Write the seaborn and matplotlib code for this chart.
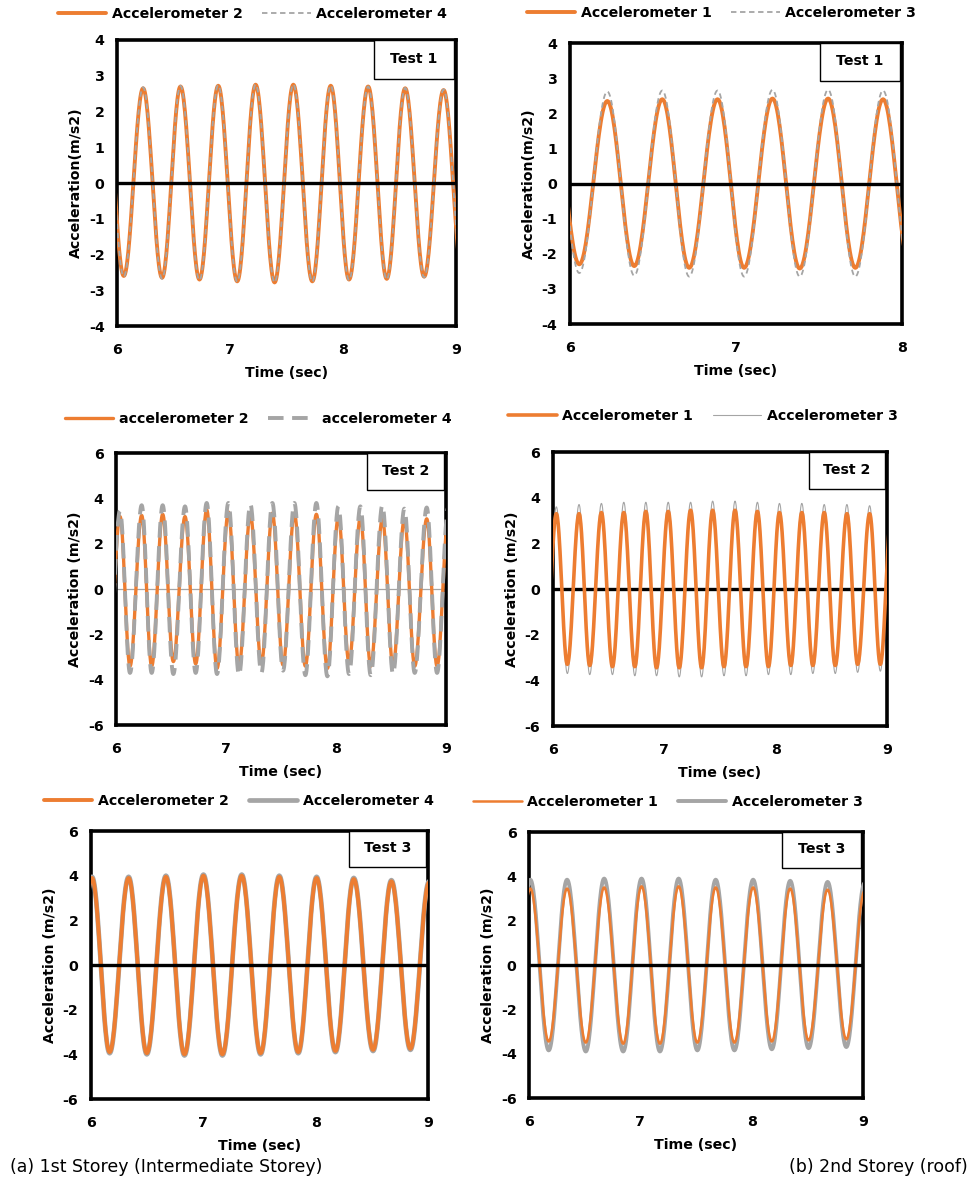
import numpy as np
import pandas as pd
import seaborn as sns
import matplotlib.pyplot as plt
from matplotlib.patches import Rectangle

# peak / trough times (s) and values (m/s2), in order
t1 = [5.893, 6.06, 6.231, 6.399, 6.562, 6.73, 6.896, 7.064, 7.227, 7.395, 7.561, 7.729,
      7.892, 8.054, 8.223, 8.388, 8.551, 8.719, 8.891, 9.06]
t1_acc2 = [2.6, -2.6, 2.65, -2.65, 2.7, -2.7, 2.72, -2.75, 2.75, -2.78, 2.75, -2.75,
           2.72, -2.7, 2.7, -2.68, 2.65, -2.62, 2.6, -2.6]
t1_acc4 = [2.62, -2.62, 2.68, -2.68, 2.72, -2.72, 2.74, -2.76, 2.76, -2.78, 2.76, -2.76,
           2.73, -2.72, 2.7, -2.7, 2.66, -2.64, 2.62, -2.6]

t2 = [5.89, 6.056, 6.225, 6.387, 6.556, 6.718, 6.889, 7.049, 7.22, 7.384, 7.555, 7.719, 7.886, 8.05]
t2_acc1 = [2.3, -2.3, 2.35, -2.35, 2.4, -2.4, 2.4, -2.4, 2.42, -2.42, 2.42, -2.4, 2.4, -2.4]
t2_acc3 = [2.6, -2.55, 2.62, -2.62, 2.65, -2.65, 2.65, -2.65, 2.67, -2.65, 2.67, -2.65, 2.65, -2.6]

t3 = [5.93, 6.036, 6.127, 6.233, 6.324, 6.424, 6.521, 6.627, 6.724, 6.824, 6.918, 7.021,
      7.118, 7.221, 7.321, 7.421, 7.518, 7.621, 7.721, 7.821, 7.921, 8.021, 8.118, 8.221,
      8.315, 8.421, 8.518, 8.621, 8.715, 8.824, 8.918, 9.02]
t3_acc2 = [-3.3, 3.2, -3.4, 3.25, -3.4, 3.3, -3.2, 3.2, -3.3, 3.5, -3.5, 3.4, -3.4, 3.3, -3.3, 3.35,
           -3.35, 3.35, -3.4, 3.3, -3.5, 3.2, -3.25, 3.15, -3.4, 3.1, -3.4, 3.1, -3.4, 3.1, -3.4, 3.1]
t3_acc4 = [-3.6, 3.45, -3.7, 3.7, -3.7, 3.7, -3.75, 3.65, -3.7, 3.8, -3.75, 3.8, -3.8, 3.75, -3.7, 3.8,
           -3.6, 3.8, -3.8, 3.8, -3.85, 3.65, -3.75, 3.65, -3.8, 3.7, -3.75, 3.55, -3.7, 3.6, -3.7, 3.6]

t4 = [5.93, 6.03, 6.129, 6.234, 6.33, 6.435, 6.534, 6.636, 6.735, 6.834, 6.93, 7.035,
      7.134, 7.236, 7.335, 7.434, 7.536, 7.635, 7.734, 7.836, 7.935, 8.034, 8.136, 8.235,
      8.334, 8.436, 8.535, 8.64, 8.736, 8.844, 8.94, 9.04]
t4_acc1 = [-3.3, 3.3, -3.3, 3.3, -3.35, 3.35, -3.4, 3.35, -3.4, 3.4, -3.45, 3.4, -3.45, 3.45, -3.45, 3.45,
           -3.4, 3.45, -3.4, 3.4, -3.4, 3.35, -3.35, 3.35, -3.35, 3.35, -3.35, 3.3, -3.3, 3.3, -3.3, 3.3]
t4_acc3 = [-3.6, 3.6, -3.7, 3.7, -3.75, 3.75, -3.75, 3.8, -3.8, 3.8, -3.8, 3.8, -3.85, 3.8, -3.85, 3.85,
           -3.8, 3.85, -3.8, 3.8, -3.75, 3.75, -3.75, 3.75, -3.7, 3.7, -3.7, 3.7, -3.65, 3.65, -3.6, 3.6]

t5 = [5.84, 6.009, 6.166, 6.335, 6.497, 6.667, 6.832, 7.001, 7.17, 7.342, 7.51, 7.676,
      7.845, 8.008, 8.176, 8.339, 8.511, 8.674, 8.843, 9.01]
t5_acc2 = [-3.9, 3.9, -3.9, 3.9, -3.95, 3.95, -4.0, 4.0, -4.0, 4.0, -3.95, 3.95,
           -3.9, 3.9, -3.85, 3.85, -3.8, 3.75, -3.75, 3.7]
t5_acc4 = [-3.95, 3.95, -3.95, 3.95, -4.0, 4.0, -4.05, 4.05, -4.05, 4.05, -4.0, 4.0,
           -3.95, 3.95, -3.9, 3.9, -3.85, 3.8, -3.8, 3.75]

t6 = [5.845, 6.012, 6.177, 6.342, 6.51, 6.675, 6.846, 7.011, 7.176, 7.344, 7.512, 7.677,
      7.845, 8.013, 8.181, 8.346, 8.511, 8.682, 8.85, 9.015]
t6_acc1 = [-3.45, 3.45, -3.45, 3.45, -3.5, 3.5, -3.55, 3.55, -3.55, 3.55, -3.5, 3.5,
           -3.5, 3.5, -3.45, 3.45, -3.4, 3.4, -3.35, 3.35]
t6_acc3 = [-3.8, 3.85, -3.85, 3.85, -3.9, 3.9, -3.9, 3.9, -3.9, 3.9, -3.85, 3.85,
           -3.85, 3.85, -3.8, 3.8, -3.75, 3.75, -3.7, 3.7]

ORANGE = '#ED7D31'
GREY = '#A5A5A5'
FS = 10.2


def trace(times, vals, n=30):
    # half-cosine between successive extrema
    xs, ys = [], []
    for k in range(len(times) - 1):
        t = np.linspace(times[k], times[k + 1], n, endpoint=False)
        ph = (t - times[k]) / (times[k + 1] - times[k])
        y = (vals[k] + vals[k + 1]) / 2 + (vals[k] - vals[k + 1]) / 2 * np.cos(np.pi * ph)
        xs.extend(t)
        ys.extend(y)
    xs.append(times[-1])
    ys.append(vals[-1])
    return pd.DataFrame({'time': xs, 'acc': ys})


sns.set_style("white")
plt.rcParams['font.family'] = ['DejaVu Sans']
plt.rcParams['font.weight'] = 'bold'
for key in ['text.color', 'axes.labelcolor', 'xtick.color', 'ytick.color']:
    plt.rcParams[key] = 'black'

fig = plt.figure(figsize=(9.71, 11.83), dpi=100)


def panel(rect, xmax, ylim, ystep, test, box, legend_xy, ylab, first, second, zero):
    ax = fig.add_axes(rect)
    handles = []
    for df, kw in [first, second]:
        kw = dict(kw)
        ls = kw.pop('ls', '-')
        sns.lineplot(data=df, x='time', y='acc', ax=ax, legend=False, **kw)
        line = ax.lines[-1]
        line.set_linestyle(ls)
        handles.append(line)
    ax.axhline(0, color=zero[0], lw=zero[1], zorder=zero[2])
    ax.set_xlim(6, xmax)
    ax.set_ylim(-ylim, ylim)
    ax.set_xticks(np.arange(6, xmax + 0.5, 1))
    ax.set_yticks(np.arange(-ylim, ylim + 0.1, ystep))
    ax.set_xticklabels([str(int(v)) for v in ax.get_xticks()])
    ax.set_yticklabels([str(int(v)) for v in ax.get_yticks()])
    for s in ax.spines.values():
        s.set_linewidth(2.6)
        s.set_color('black')
    ax.tick_params(axis='y', direction='out', length=4, width=1.5, pad=5, labelsize=FS)
    ax.tick_params(axis='x', length=0, pad=12, labelsize=FS)
    ax.set_xlabel('Time (sec)', fontsize=FS, fontweight='bold', labelpad=7)
    ax.set_ylabel(ylab, fontsize=FS, fontweight='bold')
    ax.add_patch(Rectangle((box, 0.865), 0.995 - box, 0.135, transform=ax.transAxes,
                           fc='white', ec='black', lw=1.0, zorder=10))
    ax.text(box + (0.995 - box) / 2, 0.935, test, transform=ax.transAxes, ha='center',
            va='center', fontsize=FS, fontweight='bold', zorder=11)
    ax.legend(handles, [first[1]['label'], second[1]['label']], loc='center',
              bbox_to_anchor=legend_xy, bbox_transform=fig.transFigure, ncol=2,
              frameon=False, fontsize=FS, handlelength=3.4, columnspacing=1.4,
              handletextpad=0.4)
    return ax


panel([0.1205, 0.7244, 0.349, 0.2418], 9, 4, 1, 'Test 1', 0.758, (0.26, 0.988),
      'Acceleration(m/s2)',
      (trace(t1, t1_acc2), dict(color=ORANGE, lw=2.8, label='Accelerometer 2', zorder=3)),
      (trace(t1, t1_acc4), dict(color=GREY, lw=1.3, ls=(0, (3, 2)), label='Accelerometer 4', zorder=4)),
      ('black', 2.4, 5))
panel([0.587, 0.7261, 0.3419, 0.2375], 8, 4, 1, 'Test 1', 0.753, (0.743, 0.989),
      'Acceleration(m/s2)',
      (trace(t2, t2_acc1), dict(color=ORANGE, lw=2.8, label='Accelerometer 1', zorder=3)),
      (trace(t2, t2_acc3), dict(color=GREY, lw=1.3, ls=(0, (3, 2)), label='Accelerometer 3', zorder=4)),
      ('black', 2.4, 5))
panel([0.1195, 0.3871, 0.3399, 0.2299], 9, 6, 2, 'Test 2', 0.76, (0.266, 0.646),
      'Acceleration (m/s2)',
      (trace(t3, t3_acc2), dict(color=ORANGE, lw=2.4, label='accelerometer 2', zorder=3)),
      (trace(t3, t3_acc4), dict(color=GREY, lw=2.8, ls=(0, (4, 2.2)), label='accelerometer 4', zorder=4)),
      (GREY, 0.9, 2))
panel([0.5695, 0.3863, 0.344, 0.2316], 9, 6, 2, 'Test 2', 0.766, (0.724, 0.648),
      'Acceleration (m/s2)',
      (trace(t4, t4_acc1), dict(color=ORANGE, lw=2.6, label='Accelerometer 1', zorder=4)),
      (trace(t4, t4_acc3), dict(color=GREY, lw=0.8, label='Accelerometer 3', zorder=3)),
      ('black', 2.4, 2))
panel([0.0937, 0.0710, 0.3471, 0.2265], 9, 6, 2, 'Test 3', 0.766, (0.246, 0.323),
      'Acceleration (m/s2)',
      (trace(t5, t5_acc2), dict(color=ORANGE, lw=2.8, label='Accelerometer 2', zorder=4)),
      (trace(t5, t5_acc4), dict(color=GREY, lw=3.4, label='Accelerometer 4', zorder=3)),
      ('black', 2.4, 5))
panel([0.5448, 0.0718, 0.344, 0.2249], 9, 6, 2, 'Test 3', 0.757, (0.688, 0.322),
      'Acceleration (m/s2)',
      (trace(t6, t6_acc1), dict(color=ORANGE, lw=1.8, label='Accelerometer 1', zorder=4)),
      (trace(t6, t6_acc3), dict(color=GREY, lw=2.8, label='Accelerometer 3', zorder=3)),
      ('black', 2.4, 5))

fig.text(0.010, 0.0135, '(a) 1st Storey (Intermediate Storey)', fontsize=12.5,
         fontweight='normal', va='center', ha='left')
fig.text(0.997, 0.0135, '(b) 2nd Storey (roof)', fontsize=12.5,
         fontweight='normal', va='center', ha='right')

fig.savefig('out.png', dpi=100)
